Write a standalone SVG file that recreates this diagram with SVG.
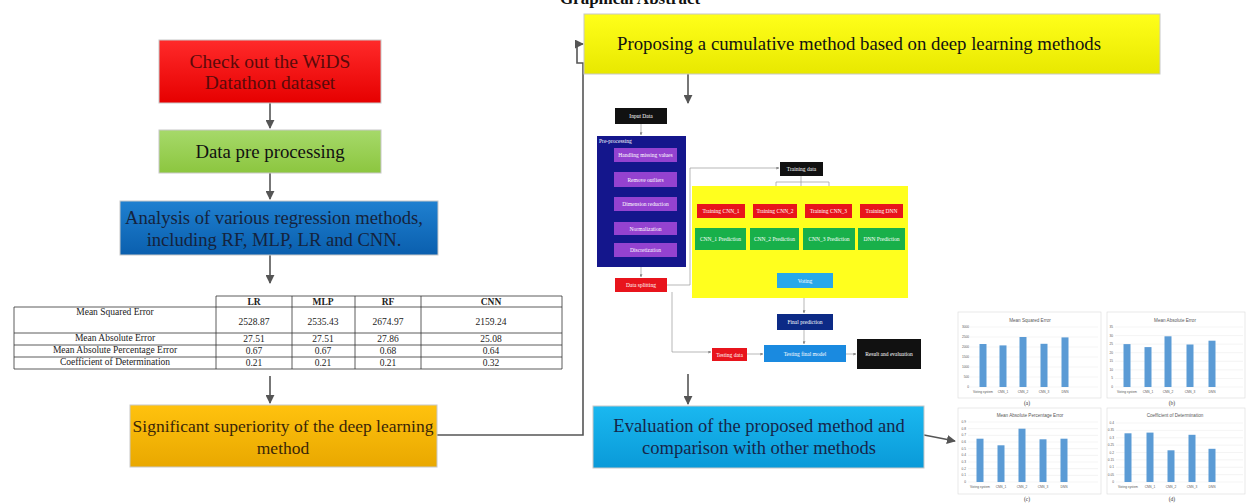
<svg xmlns="http://www.w3.org/2000/svg" width="1249" height="504" viewBox="0 0 1249 504">
<defs>
<linearGradient id="gRed" x1="0" y1="0" x2="0" y2="1"><stop offset="0" stop-color="#ff2a2a"/><stop offset="1" stop-color="#e60000"/></linearGradient>
<linearGradient id="gGreen" x1="0" y1="0" x2="0" y2="1"><stop offset="0" stop-color="#a6d96a"/><stop offset="1" stop-color="#8cc63f"/></linearGradient>
<linearGradient id="gBlue" x1="0" y1="0" x2="0" y2="1"><stop offset="0" stop-color="#1f80d0"/><stop offset="1" stop-color="#0a5fae"/></linearGradient>
<linearGradient id="gOrange" x1="0" y1="0" x2="0" y2="1"><stop offset="0" stop-color="#ffc20e"/><stop offset="1" stop-color="#e9a800"/></linearGradient>
<linearGradient id="gYellow" x1="0" y1="0" x2="0" y2="1"><stop offset="0" stop-color="#ffff1a"/><stop offset="1" stop-color="#e8e800"/></linearGradient>
<linearGradient id="gCyan" x1="0" y1="0" x2="0" y2="1"><stop offset="0" stop-color="#1ab8f0"/><stop offset="1" stop-color="#0a9ad8"/></linearGradient>
<marker id="ah" viewBox="0 0 10 10" refX="9" refY="5" markerWidth="9" markerHeight="9" markerUnits="userSpaceOnUse" orient="auto"><path d="M0,0 L10,5 L0,10 z" fill="#555"/></marker>
<marker id="as" viewBox="0 0 10 10" refX="9" refY="5" markerWidth="3" markerHeight="3" markerUnits="userSpaceOnUse" orient="auto"><path d="M0,0 L10,5 L0,10 z" fill="#888"/></marker>
</defs>
<style>
.box{stroke:#c8c8c8;stroke-width:1}
.t{font-family:"Liberation Serif","Times New Roman",serif;text-anchor:middle}
.big{font-size:18.5px}
.tb{font-size:9.5px;fill:#222}
.tl{fill:none;stroke:#333;stroke-width:0.8}
.con{fill:none;stroke:#555;stroke-width:1.6}
.mcon{fill:none;stroke:#999;stroke-width:0.7}
.mini{font-family:"Liberation Serif","Times New Roman",serif;font-size:5.5px;fill:#fff;text-anchor:middle}
.mini.left{text-anchor:start}
.ch{fill:#fff;stroke:#d9d9d9;stroke-width:0.6}
.grid{stroke:#e3e3e3;stroke-width:0.4}
.bar{fill:#5b9bd5}
.ct{font-family:"Liberation Sans",Arial,sans-serif;font-size:4.6px;fill:#595959;text-anchor:middle}
.ax{font-family:"Liberation Sans",Arial,sans-serif;font-size:3.2px;fill:#595959}
.axr{text-anchor:end}
.axm{text-anchor:middle}
.cap{font-family:"Liberation Serif","Times New Roman",serif;font-size:5.5px;fill:#333;text-anchor:middle}
</style>
<rect width="1249" height="504" fill="#fff"/>
<text class="t" x="630" y="4" font-size="17" font-weight="bold" fill="#111">Graphical Abstract</text>

<g id="connectors">
<path class="con" d="M270,103 V128" marker-end="url(#ah)"/>
<path class="con" d="M270,173 V199" marker-end="url(#ah)"/>
<path class="con" d="M270,255 V283" marker-end="url(#ah)"/>
<path class="con" d="M270,376 V403" marker-end="url(#ah)"/>
<path class="con" d="M437,435 H583 V63 H577 V44 H583" marker-end="url(#ah)"/>
<path class="con" d="M688,74 V103" marker-end="url(#ah)"/>
<path class="con" d="M688,374 V404" marker-end="url(#ah)"/>
<path class="con" d="M924,435 L955,441" marker-end="url(#ah)"/>
<path class="mcon" d="M641,124 V135" marker-end="url(#as)"/>
<path class="mcon" d="M645,162 V172 M645,187 V197 M645,211 V222 M645,235 V243"/>
<path class="mcon" d="M641,267 V277" marker-end="url(#as)"/>
<path class="mcon" d="M667,285 H690 V168 H779" marker-end="url(#as)"/>
<path class="mcon" d="M672,292 V352 H711" marker-end="url(#as)"/>
<path class="mcon" d="M801,176 V196 M776,182 H829 M721,196 H882"/>
<path class="mcon" d="M776,182 V203" marker-end="url(#as)"/>
<path class="mcon" d="M829,182 V203" marker-end="url(#as)"/>
<path class="mcon" d="M721,196 V203" marker-end="url(#as)"/>
<path class="mcon" d="M882,196 V203" marker-end="url(#as)"/>
<path class="mcon" d="M721,218 V227" marker-end="url(#as)"/>
<path class="mcon" d="M775,218 V227" marker-end="url(#as)"/>
<path class="mcon" d="M829,218 V227" marker-end="url(#as)"/>
<path class="mcon" d="M882,218 V227" marker-end="url(#as)"/>
<path class="mcon" d="M721,250 V267 H882 V250 M775,250 V256 H829 V250 M804,256 V267"/>
<path class="mcon" d="M804,267 V272" marker-end="url(#as)"/>
<path class="mcon" d="M804,288 V313" marker-end="url(#as)"/>
<path class="mcon" d="M804,330 V344" marker-end="url(#as)"/>
<path class="mcon" d="M747,354 H763" marker-end="url(#as)"/>
<path class="mcon" d="M846,354 H856" marker-end="url(#as)"/>
</g>

<g id="n-check">
<rect class="box" x="159" y="40" width="222" height="63" fill="url(#gRed)"/>
<text class="t big" x="270" y="68" fill="#5a0a0a" style="font-size:19.5px">Check out the WiDS</text>
<text class="t big" x="270" y="89" fill="#5a0a0a" style="font-size:19.5px">Datathon dataset</text>
</g>
<g id="n-pre">
<rect class="box" x="159" y="130" width="222" height="43" fill="url(#gGreen)"/>
<text class="t big" x="270" y="158" fill="#111" style="font-size:18.8px">Data pre processing</text>
</g>
<g id="n-analysis">
<rect class="box" x="120" y="201" width="318" height="54" fill="url(#gBlue)"/>
<text class="t big" x="274" y="224" fill="#15233d" style="font-size:18.6px">Analysis of various regression methods,</text>
<text class="t big" x="274" y="246" fill="#15233d" style="font-size:18.6px">including RF, MLP, LR  and CNN.</text>
</g>

<g id="n-table">
<path class="tl" d="M216,296 H562 V369 H14 V307 H562 M216,296 V369 M292,296 V369 M355,296 V369 M421,296 V369 M14,333 H562 M14,345 H562 M14,357 H562"/>
<g class="t tb">
<text x="254" y="305" font-weight="bold">LR</text>
<text x="323" y="305" font-weight="bold">MLP</text>
<text x="388" y="305" font-weight="bold">RF</text>
<text x="491" y="305" font-weight="bold">CNN</text>
<text x="115" y="315">Mean Squared Error</text>
<text x="254" y="325">2528.87</text>
<text x="323" y="325">2535.43</text>
<text x="388" y="325">2674.97</text>
<text x="491" y="325">2159.24</text>
<text x="115" y="341">Mean Absolute Error</text>
<text x="254" y="342">27.51</text>
<text x="323" y="342">27.51</text>
<text x="388" y="342">27.86</text>
<text x="491" y="342">25.08</text>
<text x="115" y="353">Mean Absolute Percentage Error</text>
<text x="254" y="354">0.67</text>
<text x="323" y="354">0.67</text>
<text x="388" y="354">0.68</text>
<text x="491" y="354">0.64</text>
<text x="115" y="365">Coefficient of Determination</text>
<text x="254" y="366">0.21</text>
<text x="323" y="366">0.21</text>
<text x="388" y="366">0.21</text>
<text x="491" y="366">0.32</text>
</g>
</g>

<g id="n-superiority">
<rect class="box" x="130" y="405" width="307" height="62" fill="url(#gOrange)"/>
<text class="t big" x="283" y="432" fill="#3a2608" style="font-size:17.5px">Significant superiority of the deep learning</text>
<text class="t big" x="283" y="454" fill="#3a2608" style="font-size:17.5px">method</text>
</g>

<g id="n-proposing">
<rect class="box" x="584" y="14" width="576" height="60" fill="url(#gYellow)"/>
<text class="t big" x="859" y="50" fill="#111" style="font-size:18.8px">Proposing a cumulative method based on deep learning methods</text>
</g>

<g id="n-evaluation">
<rect class="box" x="593" y="406" width="331" height="62" fill="url(#gCyan)"/>
<text class="t big" x="759" y="432" fill="#16264a">Evaluation of the proposed method and</text>
<text class="t big" x="759" y="454" fill="#16264a">comparison with other methods</text>
</g>

<g id="n-flowchart">
<rect x="615" y="108" width="52" height="16" fill="#111"/>
<text class="mini" x="641" y="118">Input Data</text>
<rect x="597" y="136" width="89" height="131" fill="#14168c"/>
<text class="mini left" x="599" y="143">Pre-processing</text>
<rect x="614" y="148" width="63" height="14" fill="#9442d0"/>
<text class="mini" x="645.5" y="157">Handling missing values</text>
<rect x="614" y="172" width="63" height="15" fill="#9442d0"/>
<text class="mini" x="645.5" y="181.5">Remove outliers</text>
<rect x="614" y="197" width="63" height="14" fill="#9442d0"/>
<text class="mini" x="645.5" y="206">Dimension reduction</text>
<rect x="614" y="222" width="63" height="13" fill="#9442d0"/>
<text class="mini" x="645.5" y="230.5">Normalization</text>
<rect x="614" y="243" width="63" height="14" fill="#9442d0"/>
<text class="mini" x="645.5" y="252">Discretization</text>
<rect x="615" y="278" width="52" height="14" fill="#e8141c"/>
<text class="mini" x="641" y="287">Data splitting</text>

<rect x="692" y="186" width="216" height="112" fill="#ffff1e"/>
<rect x="780" y="162" width="43" height="14" fill="#111"/>
<text class="mini" x="801.5" y="171">Training data</text>

<rect x="697" y="204" width="48" height="14" fill="#e8141c"/>
<text class="mini" x="721" y="213">Training CNN_1</text>
<rect x="753" y="204" width="44" height="14" fill="#e8141c"/>
<text class="mini" x="775" y="213">Training CNN_2</text>
<rect x="805" y="204" width="47" height="14" fill="#e8141c"/>
<text class="mini" x="828.5" y="213">Training CNN_3</text>
<rect x="860" y="204" width="43" height="14" fill="#e8141c"/>
<text class="mini" x="881.5" y="213">Training DNN</text>

<rect x="695" y="228" width="51" height="22" fill="#18b04a"/>
<text class="mini" x="720.5" y="241">CNN_1 Prediction</text>
<rect x="750" y="228" width="49" height="22" fill="#18b04a"/>
<text class="mini" x="774.5" y="241">CNN_2 Prediction</text>
<rect x="803" y="228" width="52" height="22" fill="#18b04a"/>
<text class="mini" x="829" y="241">CNN_3 Prediction</text>
<rect x="858" y="228" width="47" height="22" fill="#18b04a"/>
<text class="mini" x="881.5" y="241">DNN Prediction</text>

<rect x="777" y="273" width="56" height="15" fill="#27a8ea"/>
<text class="mini" x="805" y="282.5">Voting</text>
<rect x="777" y="314" width="56" height="16" fill="#0c2a86"/>
<text class="mini" x="805" y="324">Final prediction</text>
<rect x="712" y="348" width="35" height="13" fill="#e8141c"/>
<text class="mini" x="729.5" y="356.5">Testing data</text>
<rect x="764" y="345" width="82" height="17" fill="#1a8ae0"/>
<text class="mini" x="805" y="355.5">Testing final model</text>
<rect x="857" y="339" width="64" height="30" fill="#111"/>
<text class="mini" x="889" y="356">Result and evaluation</text>
</g>

<g id="n-chart-a" transform="translate(958,312)">
<rect class="ch" x="0" y="0" width="143" height="86"/>
<text class="ct" x="72" y="10">Mean Squared Error</text>
<path class="grid" d="M12,15H140M12,25H140M12,35H140M12,45H140M12,55H140M12,65H140M12,75H140"/>
<g class="ax axr"><text x="11" y="16">3000</text><text x="11" y="26">2500</text><text x="11" y="36">2000</text><text x="11" y="46">1500</text><text x="11" y="56">1000</text><text x="11" y="66">500</text><text x="11" y="76">0</text></g>
<rect class="bar" x="21.5" y="32" width="7" height="43"/><rect class="bar" x="41.5" y="33.4" width="7" height="41.6"/><rect class="bar" x="61.5" y="25" width="7" height="50"/><rect class="bar" x="82.5" y="31.8" width="7" height="43.2"/><rect class="bar" x="103.5" y="25.4" width="7" height="49.6"/>
<g class="ax axm"><text x="25" y="81">Voting system</text><text x="45" y="81">CNN_1</text><text x="65" y="81">CNN_2</text><text x="86" y="81">CNN_3</text><text x="107" y="81">DNN</text></g>
</g>
<text class="cap" x="1027" y="405">(a)</text>

<g id="n-chart-b" transform="translate(1107,312)">
<rect class="ch" x="0" y="0" width="138" height="86"/>
<text class="ct" x="68" y="10">Mean Absolute Error</text>
<path class="grid" d="M8,15H136M8,23.57H136M8,32.14H136M8,40.71H136M8,49.29H136M8,57.86H136M8,66.43H136M8,75H136"/>
<g class="ax axr"><text x="6" y="16">35</text><text x="6" y="24.6">30</text><text x="6" y="33.1">25</text><text x="6" y="41.7">20</text><text x="6" y="50.3">15</text><text x="6" y="58.9">10</text><text x="6" y="67.4">5</text><text x="6" y="76">0</text></g>
<rect class="bar" x="16.5" y="32.1" width="7" height="42.9"/><rect class="bar" x="37.5" y="35.1" width="7" height="39.9"/><rect class="bar" x="57.5" y="24.3" width="7" height="50.7"/><rect class="bar" x="79.5" y="32.5" width="7" height="42.5"/><rect class="bar" x="101.5" y="28.7" width="7" height="46.3"/>
<g class="ax axm"><text x="20" y="81">Voting system</text><text x="41" y="81">CNN_1</text><text x="61" y="81">CNN_2</text><text x="83" y="81">CNN_3</text><text x="105" y="81">DNN</text></g>
</g>
<text class="cap" x="1172" y="405">(b)</text>

<g id="n-chart-c" transform="translate(958,408)">
<rect class="ch" x="0" y="0" width="143" height="86"/>
<text class="ct" x="72" y="9">Mean Absolute Percentage Error</text>
<path class="grid" d="M10,14H140M10,20.67H140M10,27.33H140M10,34H140M10,40.67H140M10,47.33H140M10,54H140M10,60.67H140M10,67.33H140M10,74H140"/>
<g class="ax axr"><text x="8" y="15">0.9</text><text x="8" y="21.7">0.8</text><text x="8" y="28.3">0.7</text><text x="8" y="35">0.6</text><text x="8" y="41.7">0.5</text><text x="8" y="48.3">0.4</text><text x="8" y="55">0.3</text><text x="8" y="61.7">0.2</text><text x="8" y="68.3">0.1</text><text x="8" y="75">0</text></g>
<rect class="bar" x="18.5" y="30.7" width="7" height="43.3"/><rect class="bar" x="39.5" y="37.3" width="7" height="36.7"/><rect class="bar" x="60.5" y="20.7" width="7" height="53.3"/><rect class="bar" x="81.5" y="31.3" width="7" height="42.7"/><rect class="bar" x="102.5" y="30.7" width="7" height="43.3"/>
<g class="ax axm"><text x="22" y="80">Voting system</text><text x="43" y="80">CNN_1</text><text x="64" y="80">CNN_2</text><text x="85" y="80">CNN_3</text><text x="106" y="80">DNN</text></g>
</g>
<text class="cap" x="1027" y="501">(c)</text>

<g id="n-chart-d" transform="translate(1107,408)">
<rect class="ch" x="0" y="0" width="138" height="86"/>
<text class="ct" x="68" y="9">Coefficient of Determination</text>
<path class="grid" d="M9,15H136M9,22.38H136M9,29.75H136M9,37.13H136M9,44.5H136M9,51.88H136M9,59.25H136M9,66.63H136M9,74H136"/>
<g class="ax axr"><text x="7" y="16">0.4</text><text x="7" y="23.4">0.35</text><text x="7" y="30.8">0.3</text><text x="7" y="38.1">0.25</text><text x="7" y="45.5">0.2</text><text x="7" y="52.9">0.15</text><text x="7" y="60.3">0.1</text><text x="7" y="67.6">0.05</text><text x="7" y="75">0</text></g>
<rect class="bar" x="17.5" y="25.3" width="7" height="48.7"/><rect class="bar" x="39.5" y="24.6" width="7" height="49.4"/><rect class="bar" x="60.5" y="42.3" width="7" height="31.7"/><rect class="bar" x="81.5" y="26.8" width="7" height="47.2"/><rect class="bar" x="101.5" y="40.8" width="7" height="33.2"/>
<g class="ax axm"><text x="21" y="80">Voting system</text><text x="43" y="80">CNN_1</text><text x="64" y="80">CNN_2</text><text x="85" y="80">CNN_3</text><text x="105" y="80">DNN</text></g>
</g>
<text class="cap" x="1172" y="501">(d)</text>
</svg>
